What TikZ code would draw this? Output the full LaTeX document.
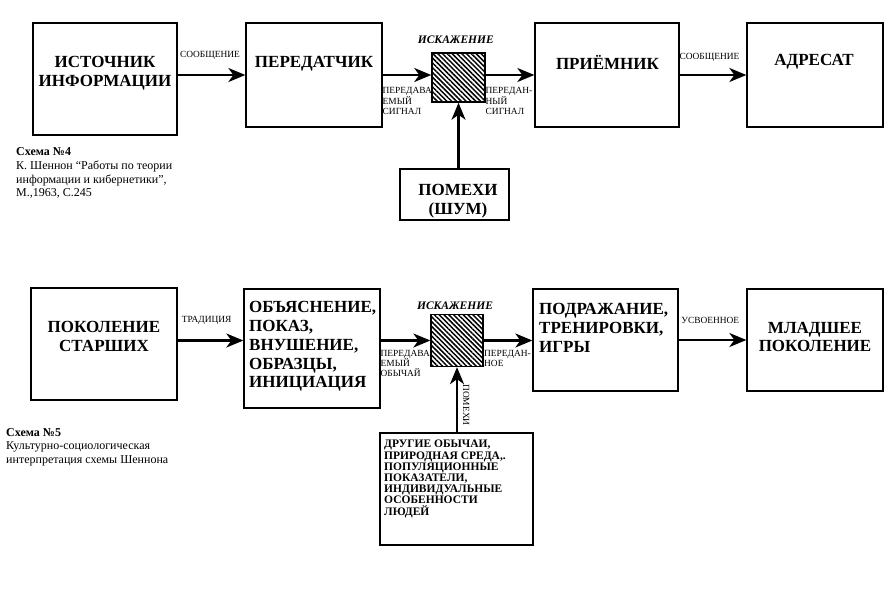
\documentclass[tikz,border=0pt]{standalone}
\usepackage{fontspec}
\setmainfont{Liberation Serif}
\usetikzlibrary{arrows.meta,positioning,patterns.meta}

\begin{document}
\begin{tikzpicture}[x=1pt,y=-1pt,
  blok/.style 2 args={
  % The shape:
  rectangle,
  % The size:
  minimum width=#1pt, minimum height=#2pt,
  % The border:
  draw=black, line width=1.3pt,
  inner sep=0pt
  },
  napis/.style={font=\bfseries\fontsize{17}{18.8}\selectfont, align=center, inner sep=0pt},
  napisl/.style={napis, align=left, anchor=west},
  metka/.style={font=\fontsize{9.4}{10.2}\selectfont, align=left, inner sep=0pt},
  iskaz/.style={font=\bfseries\itshape\fontsize{11.5}{12}\selectfont, inner sep=0pt},
  szum/.style={
  draw=black, line width=1.3pt,
  preaction={fill=white},
  pattern={Lines[angle=-45,distance=3.4pt,line width=1.5pt]},
  inner sep=0pt
  },
  strz/.style={line width=2.2pt, -{Stealth[length=17pt,width=14pt,inset=5pt]}},
  podpis/.style={font=\fontsize{12}{13.6}\selectfont, align=left, inner sep=0pt, anchor=west}]
  \useasboundingbox (0,0) rectangle (891,592);

  % Схема 4
  \node (src) [blok={144}{112}] at (105,79) {};
  \node (tx) [blok={136}{104}] at (314,75) {};
  \node (rx) [blok={144}{104}] at (607,75) {};
  \node (dst) [blok={136}{104}] at (815,75) {};
  \node (noise) [blok={109}{51}] at (454.5,194.5) {};

  \node (srcT) [napis] at (105,73) {ИСТОЧНИК\\ИНФОРМАЦИИ};
  \node (txT) [napis] at (314,63.3) {ПЕРЕДАТЧИК};
  \node (rxT) [napis] at (607.5,62) {ПРИЁМНИК};
  \node (dstT) [napis] at (814,62) {АДРЕСАТ};
  \node (noiseT) [napis] at (458,201) {ПОМЕХИ\\(ШУМ)};

  \node (m1) [metka] at (210,55) {СООБЩЕНИЕ};
  \node (m2) [metka] at (709.5,57.5) {СООБЩЕНИЕ};
  \node (s1) [metka, anchor=west] at (382.5,101) {ПЕРЕДАВА\\ЕМЫЙ\\СИГНАЛ};
  \node (s2) [metka, anchor=west] at (485.5,101) {ПЕРЕДАН-\\НЫЙ\\СИГНАЛ};

  \node (h1) [szum, minimum width=53pt, minimum height=49pt] at (458.5,77.5) {};
  \node (i1) [iskaz] at (455.8,40) {ИСКАЖЕНИЕ};

  \draw[strz] ([yshift=4pt]src.east) -- (tx.west);
  \draw[strz] (tx.east) -- (tx.east -| h1.west);
  \draw[strz] (h1.east |- rx.west) -- (rx.west);
  \draw[strz] (rx) -- (dst);
  \draw[strz] (noise.north -| h1.south) -- (h1.south);

  \node (c4) [podpis] at (16,173.3) {\textbf{Схема №4}\\К. Шеннон “Работы по теории\\информации и кибернетики”,\\М.,1963, С.245};

  % Схема 5
  \node (old) [blok={146}{112}] at (104,344) {};
  \node (expl) [blok={136}{119}] at (312,348.5) {};
  \node (imit) [blok={145}{102}] at (605.5,340) {};
  \node (young) [blok={136}{102}] at (815,340) {};
  \node (oth) [blok={153}{112}] at (456.5,489) {};

  \node (oldT) [napis] at (104,336.5) {ПОКОЛЕНИЕ\\СТАРШИХ};
  \node (explT) [napisl] at (249,346.5) {ОБЪЯСНЕНИЕ,\\ПОКАЗ,\\ВНУШЕНИЕ,\\ОБРАЗЦЫ,\\ИНИЦИАЦИЯ};
  \node (imitT) [napisl] at (539,327.8) {ПОДРАЖАНИЕ,\\ТРЕНИРОВКИ,\\ИГРЫ};
  \node (youngT) [napis] at (815,337) {МЛАДШЕЕ\\ПОКОЛЕНИЕ};
  \node (othT) [anchor=west, align=left, inner sep=0pt, font=\bfseries\fontsize{11.5}{11.2}\selectfont] at (384,479)
    {ДРУГИЕ ОБЫЧАИ,\\ПРИРОДНАЯ СРЕДА,.\\ПОПУЛЯЦИОННЫЕ\\ПОКАЗАТЕЛИ,\\ИНДИВИДУАЛЬНЫЕ\\ОСОБЕННОСТИ\\ЛЮДЕЙ};

  \node (t1) [metka] at (206.7,320) {ТРАДИЦИЯ};
  \node (t2) [metka] at (710.3,320) {УСВОЕННОЕ};
  \node (o1) [metka, anchor=west] at (380.5,363.3) {ПЕРЕДАВА\\ЕМЫЙ\\ОБЫЧАЙ};
  \node (o2) [metka, anchor=west] at (484,358.7) {ПЕРЕДАН-\\НОЕ};

  \node (h2) [szum, minimum width=52pt, minimum height=52pt] at (457,340.5) {};
  \node (i2) [iskaz] at (455,305.5) {ИСКАЖЕНИЕ};

  \draw[strz] (old.east |- h2.west) -- (expl.west |- h2.west);
  \draw[strz] (expl.east |- h2.west) -- (h2.west);
  \draw[strz] (h2.east) -- (h2.east -| imit.west);
  \draw[strz] (imit) -- (young);
  \draw[strz] (h2.south |- oth.north) -- node[metka, pos=0.42, rotate=-90, anchor=south, inner ysep=5pt] {ПОМЕХИ} (h2.south);

  \node (c5) [podpis] at (6,447) {\textbf{Схема №5}\\Культурно-социологическая\\интерпретация схемы Шеннона};
\end{tikzpicture}
\end{document}
